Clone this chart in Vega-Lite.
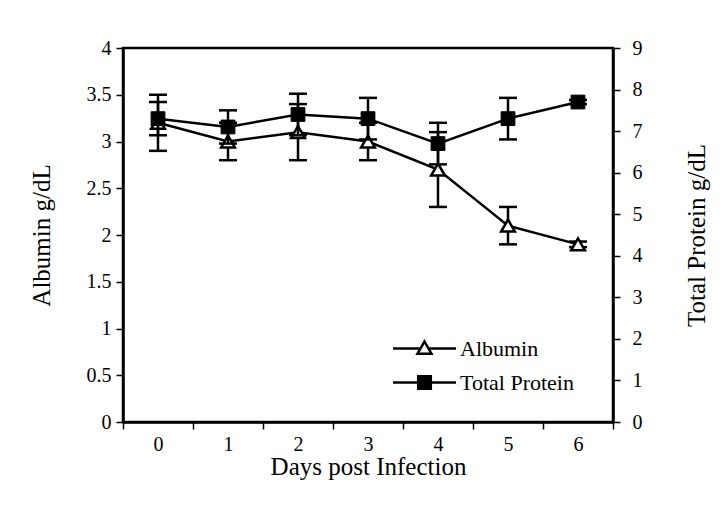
{
  "$schema": "https://vega.github.io/schema/vega-lite/v6.json",
  "width": 490,
  "height": 374,
  "autosize": {"type": "none"},
  "padding": {"left": 123, "top": 48, "right": 107, "bottom": 96},
  "background": "white",
  "config": {
    "font": "Liberation Serif",
    "view": {"stroke": "black", "strokeWidth": 2.5},
    "axis": {
      "labelFont": "Liberation Serif",
      "titleFont": "Liberation Serif",
      "labelFontSize": 20,
      "titleFontSize": 25,
      "titleFontWeight": "normal",
      "labelColor": "black",
      "titleColor": "black",
      "domainColor": "black",
      "domainWidth": 2.5,
      "tickColor": "black",
      "tickWidth": 1.5,
      "tickSize": 7,
      "grid": false
    },
    "legend": {
      "labelFont": "Liberation Serif",
      "labelFontSize": 22,
      "labelColor": "black"
    }
  },
  "layer": [
    {
      "data": {
        "values": [
          {"day": 0, "series": "Albumin", "v": 3.2, "lo": 2.9, "hi": 3.5},
          {"day": 1, "series": "Albumin", "v": 3.0, "lo": 2.8, "hi": 3.2},
          {"day": 2, "series": "Albumin", "v": 3.1, "lo": 2.8, "hi": 3.4},
          {"day": 3, "series": "Albumin", "v": 3.0, "lo": 2.8, "hi": 3.2},
          {"day": 4, "series": "Albumin", "v": 2.7, "lo": 2.3, "hi": 3.1},
          {"day": 5, "series": "Albumin", "v": 2.1, "lo": 1.9, "hi": 2.3},
          {"day": 6, "series": "Albumin", "v": 1.9, "lo": 1.87, "hi": 1.93}
        ]
      },
      "encoding": {
        "x": {
          "field": "day",
          "type": "ordinal",
          "scale": {"type": "band", "paddingInner": 0, "paddingOuter": 0},
          "axis": {"title": "Days post Infection", "labelAngle": 0, "tickBand": "extent", "labelPadding": 5, "titlePadding": 0}
        }
      },
      "layer": [
        {
          "mark": {"type": "rule", "color": "black", "strokeWidth": 2.5, "opacity": 1},
          "encoding": {
            "y": {"field": "lo", "type": "quantitative", "scale": {"domain": [0, 4]}, "axis": {"title": "Albumin g/dL", "orient": "left", "values": [0, 0.5, 1, 1.5, 2, 2.5, 3, 3.5, 4], "format": "~g", "labelPadding": 5, "titlePadding": 32}},
            "y2": {"field": "hi"}
          }
        },
        {
          "mark": {"type": "tick", "color": "black", "thickness": 2.5, "size": 18, "opacity": 1},
          "encoding": {"y": {"field": "lo", "type": "quantitative"}}
        },
        {
          "mark": {"type": "tick", "color": "black", "thickness": 2.5, "size": 18, "opacity": 1},
          "encoding": {"y": {"field": "hi", "type": "quantitative"}}
        },
        {
          "mark": {"type": "line", "color": "black", "strokeWidth": 2.5, "opacity": 1},
          "encoding": {"y": {"field": "v", "type": "quantitative"}}
        },
        {
          "mark": {"type": "point", "shape": "triangle-up", "filled": true, "fill": "white", "stroke": "black", "strokeWidth": 2.5, "size": 190, "opacity": 1},
          "encoding": {"y": {"field": "v", "type": "quantitative"}}
        },
        {
          "data": {"values": []},
          "mark": {"type": "point", "filled": true, "stroke": "black", "strokeWidth": 2.5, "opacity": 1},
          "encoding": {
            "y": {"field": "v", "type": "quantitative"},
            "shape": {
              "field": "series",
              "type": "nominal",
              "scale": {
                "domain": ["Albumin", "Total Protein"],
                "range": [
                  "M-2.25,0H-0.28M0.28,0H2.25M0,-0.5L0.5,0.38L-0.5,0.38Z",
                  "M-2.25,0H2.25M-0.45,-0.45H0.45V0.45H-0.45Z"
                ]
              },
              "legend": {"title": null, "orient": "none", "legendX": 286, "legendY": 285, "symbolSize": 784, "symbolStrokeWidth": 2.5, "rowPadding": 7, "labelOffset": 20, "padding": 0}
            },
            "fill": {
              "field": "series",
              "type": "nominal",
              "scale": {"domain": ["Albumin", "Total Protein"], "range": ["white", "black"]},
              "legend": {"title": null, "orient": "none", "legendX": 286, "legendY": 285, "symbolSize": 784, "symbolStrokeWidth": 2.5, "rowPadding": 7, "labelOffset": 20, "padding": 0}
            }
          }
        }
      ]
    },
    {
      "data": {
        "values": [
          {"day": 0, "series": "Total Protein", "v": 7.3, "lo": 6.9, "hi": 7.7},
          {"day": 1, "series": "Total Protein", "v": 7.1, "lo": 6.7, "hi": 7.5},
          {"day": 2, "series": "Total Protein", "v": 7.4, "lo": 6.9, "hi": 7.9},
          {"day": 3, "series": "Total Protein", "v": 7.3, "lo": 6.8, "hi": 7.8},
          {"day": 4, "series": "Total Protein", "v": 6.7, "lo": 6.2, "hi": 7.2},
          {"day": 5, "series": "Total Protein", "v": 7.3, "lo": 6.8, "hi": 7.8},
          {"day": 6, "series": "Total Protein", "v": 7.7, "lo": 7.65, "hi": 7.75}
        ]
      },
      "encoding": {
        "x": {"field": "day", "type": "ordinal", "scale": {"type": "band", "paddingInner": 0, "paddingOuter": 0}}
      },
      "layer": [
        {
          "mark": {"type": "rule", "color": "black", "strokeWidth": 2.5, "opacity": 1},
          "encoding": {
            "y": {"field": "lo", "type": "quantitative", "scale": {"domain": [0, 9]}, "axis": {"title": "Total Protein g/dL", "orient": "right", "titleAngle": 270, "values": [0, 1, 2, 3, 4, 5, 6, 7, 8, 9], "labelPadding": 12, "titlePadding": 67}},
            "y2": {"field": "hi"}
          }
        },
        {
          "mark": {"type": "tick", "color": "black", "thickness": 2.5, "size": 18, "opacity": 1},
          "encoding": {"y": {"field": "lo", "type": "quantitative"}}
        },
        {
          "mark": {"type": "tick", "color": "black", "thickness": 2.5, "size": 18, "opacity": 1},
          "encoding": {"y": {"field": "hi", "type": "quantitative"}}
        },
        {
          "mark": {"type": "line", "color": "black", "strokeWidth": 2.5, "opacity": 1},
          "encoding": {"y": {"field": "v", "type": "quantitative"}}
        },
        {
          "mark": {"type": "point", "shape": "square", "filled": true, "fill": "black", "stroke": "black", "strokeWidth": 1, "size": 190, "opacity": 1},
          "encoding": {"y": {"field": "v", "type": "quantitative"}}
        }
      ]
    }
  ],
  "resolve": {"scale": {"y": "independent"}}
}
